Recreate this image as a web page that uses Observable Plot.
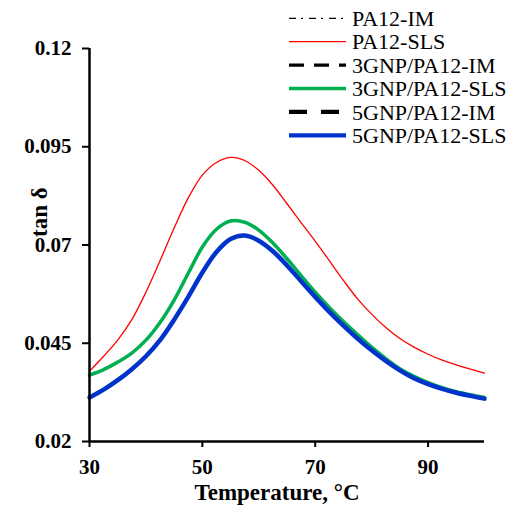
<!DOCTYPE html>
<html>
<head>
<meta charset="utf-8">
<script src="https://cdn.jsdelivr.net/npm/d3@7"></script>
<script src="https://cdn.jsdelivr.net/npm/@observablehq/plot@0.6"></script>
<style>
  html, body { margin: 0; padding: 0; background: #fff; }
  #chart { width: 510px; height: 510px; }
</style>
</head>
<body>
<div id="chart"></div>
<script>
// Temperature (°C)
const temperature = [30, 32.5, 35, 37.5, 40, 42.5, 45, 47.5, 50, 52.5, 55, 57.5, 60, 62.5, 65, 67.5, 70, 72.5, 75, 77.5, 80, 82.5, 85, 87.5, 90, 92.5, 95, 97.5, 100];
// tan δ series
const pa12SLS = [0.0379, 0.0417, 0.0458, 0.0510, 0.0580, 0.0660, 0.0743, 0.0820, 0.0878, 0.0910, 0.0923, 0.0915, 0.0890, 0.0852, 0.0805, 0.0757, 0.0710, 0.0660, 0.0610, 0.0563, 0.0524, 0.0490, 0.0462, 0.0440, 0.0422, 0.0407, 0.0395, 0.0384, 0.0374];
const gnp3SLS = [0.0369, 0.0383, 0.0402, 0.0425, 0.0458, 0.0503, 0.0560, 0.0628, 0.0695, 0.0740, 0.0761, 0.0758, 0.0738, 0.0705, 0.0665, 0.0622, 0.0580, 0.0541, 0.0505, 0.0472, 0.0440, 0.0411, 0.0385, 0.0366, 0.0350, 0.0337, 0.0327, 0.0319, 0.0312];
const gnp5SLS = [0.0312, 0.0332, 0.0356, 0.0384, 0.0417, 0.0458, 0.0510, 0.0568, 0.0630, 0.0682, 0.0715, 0.0724, 0.0711, 0.0684, 0.0648, 0.0608, 0.0568, 0.0530, 0.0495, 0.0462, 0.0432, 0.0405, 0.0381, 0.0361, 0.0346, 0.0334, 0.0324, 0.0316, 0.0309];

const xTicks = [30, 50, 70, 90];
const yTicks = [0.02, 0.045, 0.07, 0.095, 0.12];

const legendLabels = ["PA12-IM", "PA12-SLS", "3GNP/PA12-IM", "3GNP/PA12-SLS", "5GNP/PA12-IM", "5GNP/PA12-SLS"];
const legendColors = ["#000000", "#ff0000", "#000000", "#00b050", "#000000", "#0033cc"];
const legendWidths = [1.3, 1.3, 3.3, 3.3, 4.3, 4.3];
const legendDashes = ["7,5,2,6", null, "15,10", null, "18,14", null];

const toRows = (vals, name) => temperature.map((t, i) => ({t, v: vals[i], name}));
const rowsRed = toRows(pa12SLS, "PA12-SLS");
const rowsGreen = toRows(gnp3SLS, "3GNP/PA12-SLS");
const rowsBlue = toRows(gnp5SLS, "5GNP/PA12-SLS");

const serif = "'Liberation Serif', 'Times New Roman', serif";

const svg = Plot.plot({
  width: 510,
  height: 510,
  marginLeft: 89,
  marginRight: 26,
  marginTop: 48,
  marginBottom: 69,
  style: {fontFamily: serif, fontSize: "21px", fontWeight: "bold", color: "#000", background: "#fff"},
  x: {domain: [30, 100]},
  y: {domain: [0.02, 0.12]},
  marks: [
    Plot.axisX({ticks: xTicks, tickSize: 6, tickPadding: 12, strokeWidth: 2, label: null, fontSize: 21, fontWeight: "bold"}),
    Plot.axisY({ticks: yTicks, tickSize: 7, tickPadding: 11, strokeWidth: 2, label: null, tickFormat: d => String(+d.toFixed(3)), fontSize: 21, fontWeight: "bold"}),
    Plot.lineY(rowsRed, {x: "t", y: "v", stroke: "#ff0000", strokeWidth: 1.3, curve: "catmull-rom"}),
    Plot.lineY(rowsGreen, {x: "t", y: "v", stroke: "#00b050", strokeWidth: 3.5, curve: "catmull-rom"}),
    Plot.lineY(rowsBlue, {x: "t", y: "v", stroke: "#0033cc", strokeWidth: 4.5, curve: "catmull-rom"}),
    Plot.ruleX([30], {stroke: "#000", strokeWidth: 2.5}),
    Plot.ruleY([0.02], {stroke: "#000", strokeWidth: 2.5}),
    Plot.text(["Temperature, °C"], {frameAnchor: "bottom", dy: 58, dx: -10, fontSize: 23, fontWeight: "bold", fill: "#000"}),
    Plot.text(["tan δ"], {frameAnchor: "left", rotate: -90, dx: -50, dy: -8, fontSize: 23, fontWeight: "bold", fill: "#000"})
  ]
});

// Legend (top right, overlapping the plot area)
const g = d3.select(svg).append("g").attr("class", "legend").attr("text-anchor", "start");
legendLabels.forEach((lab, i) => {
  const y = 18.3 + i * 23.4;
  const ln = g.append("line")
    .attr("x1", 289).attr("x2", 346)
    .attr("y1", y).attr("y2", y)
    .attr("stroke", legendColors[i])
    .attr("stroke-width", legendWidths[i]);
  if (legendDashes[i]) ln.attr("stroke-dasharray", legendDashes[i]);
  g.append("text")
    .attr("x", 352).attr("y", y + 7.7)
    .attr("text-anchor", "start")
    .attr("font-family", serif)
    .attr("font-size", 22)
    .attr("font-weight", "normal")
    .attr("fill", "#000")
    .text(lab);
});

document.getElementById("chart").appendChild(svg);
</script>
</body>
</html>
